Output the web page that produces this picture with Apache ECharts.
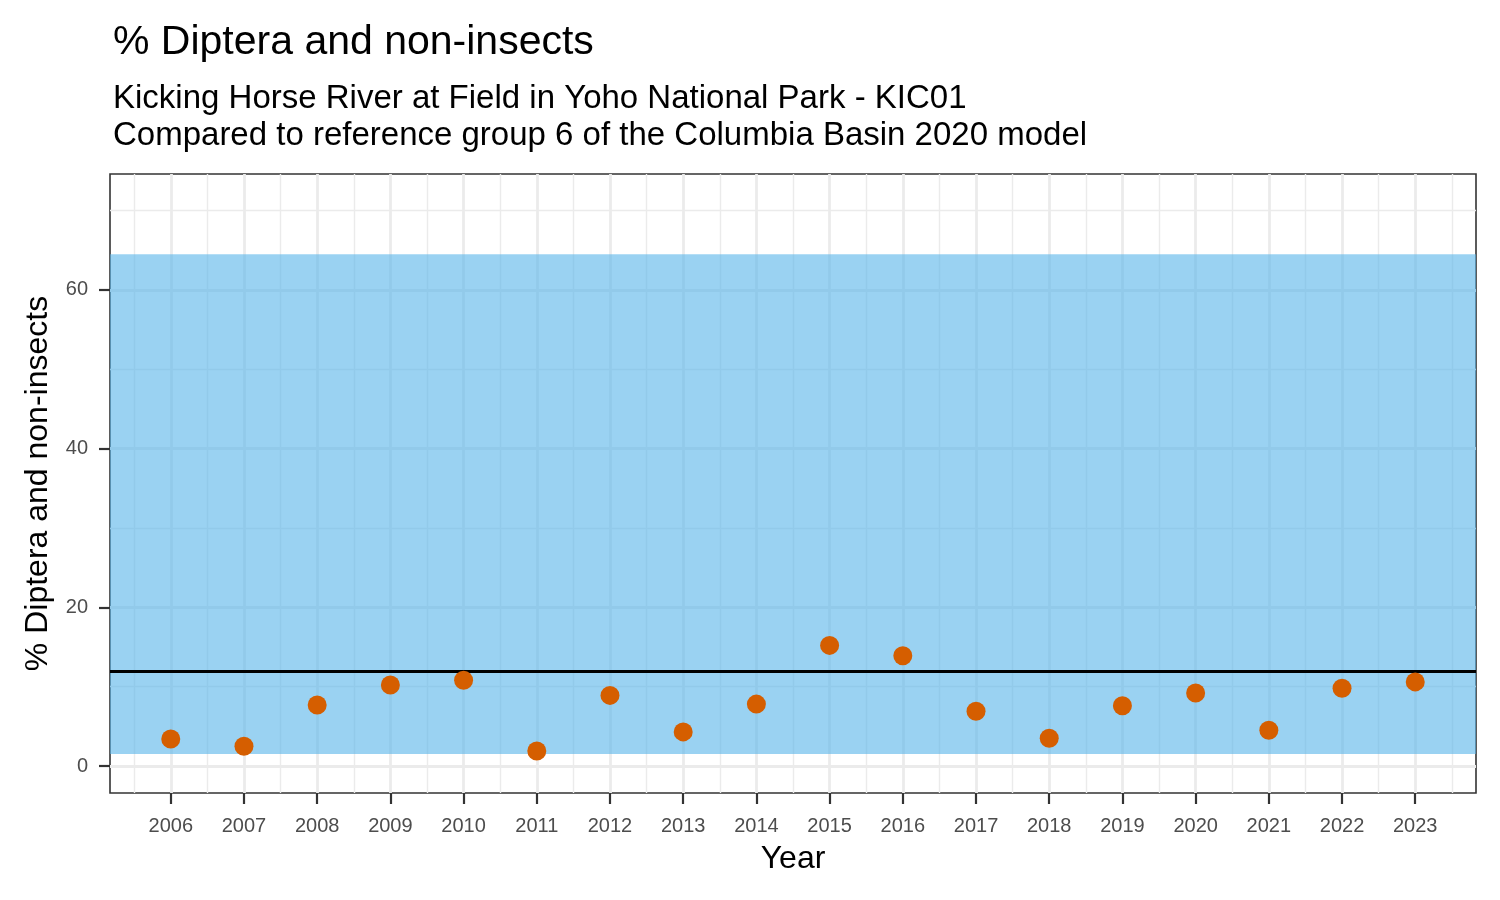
<!DOCTYPE html>
<html>
<head>
<meta charset="utf-8">
<script src="https://cdn.jsdelivr.net/npm/echarts@6/dist/echarts.min.js"></script>
<style>
  html, body { margin: 0; padding: 0; background: #fff; }
  #chart { width: 1500px; height: 900px; }
</style>
</head>
<body>
<div id="chart"></div>
<script>
// data
var years = [2006, 2007, 2008, 2009, 2010, 2011, 2012, 2013, 2014,
             2015, 2016, 2017, 2018, 2019, 2020, 2021, 2022, 2023];
var pctDiptera = [3.4, 2.5, 7.7, 10.2, 10.8, 1.9, 8.9, 4.3, 7.8,
                  15.2, 13.9, 6.9, 3.5, 7.6, 9.2, 4.5, 9.8, 10.6];
var yTicks = [0, 20, 40, 60];
var yMinorTicks = [10, 30, 50, 70];
var xMinorTicks = [2005.5, 2006.5, 2007.5, 2008.5, 2009.5, 2010.5, 2011.5, 2012.5, 2013.5,
                   2014.5, 2015.5, 2016.5, 2017.5, 2018.5, 2019.5, 2020.5, 2021.5, 2022.5, 2023.5];
var refLow = 1.5;      // reference range bottom
var refHigh = 64.5;    // reference range top
var refMedian = 12;    // reference line

var X_MIN = 2005.17, X_MAX = 2023.83;
var Y_MIN = -3.4, Y_MAX = 74.6;

var FONT = 'Liberation Sans, Arial, sans-serif';
var GRID_COLOR = '#EBEBEB';

var myChart = echarts.init(document.getElementById('chart'));

var points = years.map(function (y, i) { return [y, pctDiptera[i]]; });

var option = {
    animation: false,
    backgroundColor: '#fff',
    title: [{
        text: '% Diptera and non-insects',
        left: 108, top: 17,
        textStyle: { fontFamily: FONT, fontSize: 41, fontWeight: 'normal', color: '#000' }
    }, {
        text: 'Kicking Horse River at Field in Yoho National Park - KIC01\nCompared to reference group 6 of the Columbia Basin 2020 model',
        left: 108, top: 75,
        textStyle: { fontFamily: FONT, fontSize: 33, fontWeight: 'normal', color: '#000', lineHeight: 37 }
    }],
    grid: {
        left: 110, right: 24, top: 174, bottom: 107,
        show: true, borderColor: '#333', borderWidth: 1.6, backgroundColor: 'transparent'
    },
    xAxis: [{
        type: 'value', min: X_MIN, max: X_MAX, position: 'bottom',
        name: 'Year', nameLocation: 'middle', nameGap: 50,
        nameTextStyle: { fontFamily: FONT, fontSize: 32, color: '#000' },
        axisLine: { show: false, onZero: false },
        axisTick: { show: true, length: 11, customValues: years, lineStyle: { color: '#333', width: 2.2 } },
        axisLabel: { customValues: years, margin: 23, fontFamily: FONT, fontSize: 20, color: '#4D4D4D',
                     formatter: function (v) { return String(Math.round(v)); } },
        splitLine: { show: true, lineStyle: { color: GRID_COLOR, width: 2.8 } }
    }, {
        type: 'value', min: X_MIN, max: X_MAX, position: 'top',
        axisLine: { show: false, onZero: false },
        axisTick: { show: false, customValues: xMinorTicks },
        axisLabel: { show: false, customValues: xMinorTicks },
        splitLine: { show: true, lineStyle: { color: GRID_COLOR, width: 1.4 } }
    }],
    yAxis: [{
        type: 'value', min: Y_MIN, max: Y_MAX, position: 'left',
        name: '% Diptera and non-insects', nameLocation: 'middle', nameGap: 56,
        nameTextStyle: { fontFamily: FONT, fontSize: 32, color: '#000' },
        axisLine: { show: false, onZero: false },
        axisTick: { show: true, length: 11, customValues: yTicks, lineStyle: { color: '#333', width: 2.2 } },
        axisLabel: { customValues: yTicks, margin: 22, fontFamily: FONT, fontSize: 20, color: '#4D4D4D' },
        splitLine: { show: true, lineStyle: { color: GRID_COLOR, width: 2.8 } }
    }, {
        type: 'value', min: Y_MIN, max: Y_MAX, position: 'right',
        axisLine: { show: false, onZero: false },
        axisTick: { show: false, customValues: yMinorTicks },
        axisLabel: { show: false, customValues: yMinorTicks },
        splitLine: { show: true, lineStyle: { color: GRID_COLOR, width: 1.4 } }
    }],
    series: [{
        type: 'line',
        data: [],
        silent: true,
        markArea: {
            silent: true,
            itemStyle: { color: 'rgba(86,180,233,0.6)' },
            data: [[{ yAxis: refLow }, { yAxis: refHigh }]]
        },
        markLine: {
            silent: true,
            symbol: 'none',
            label: { show: false },
            lineStyle: { color: '#000', width: 3.2, type: 'solid' },
            data: [{ yAxis: refMedian }]
        }
    }, {
        name: '% Diptera and non-insects',
        type: 'scatter',
        z: 10,
        symbolSize: 19,
        itemStyle: { color: '#D55E00', opacity: 1 },
        data: points
    }]
};

myChart.setOption(option);
</script>
</body>
</html>
